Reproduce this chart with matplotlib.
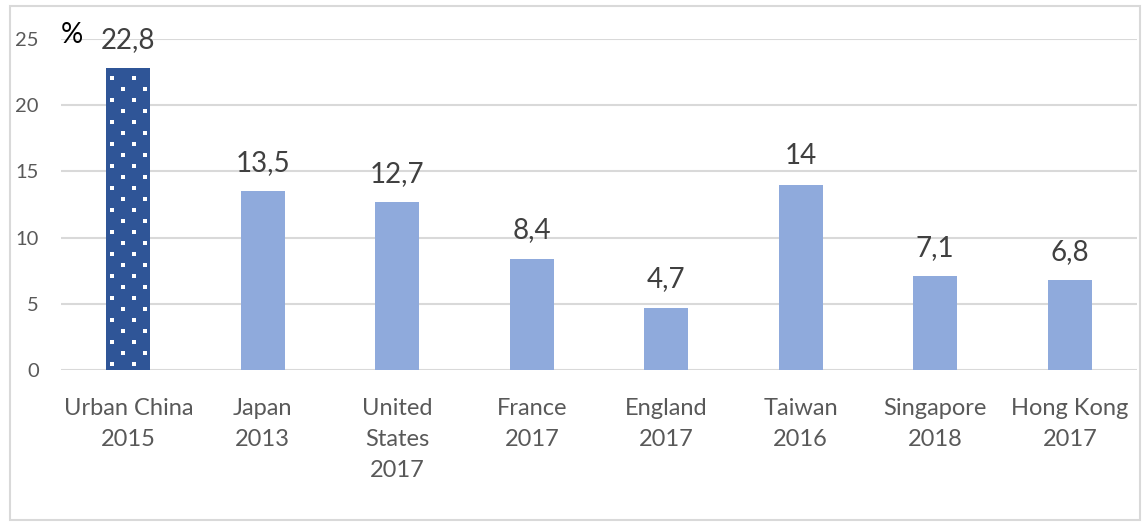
import matplotlib
matplotlib.use("Agg")
import matplotlib.pyplot as plt
from matplotlib.patches import Rectangle
import numpy as np

categories = ["Urban China\n2015", "Japan\n2013", "United\nStates\n2017", "France\n2017",
              "England\n2017", "Taiwan\n2016", "Singapore\n2018", "Hong Kong\n2017"]
values = [22.8, 13.5, 12.7, 8.4, 4.7, 14.0, 7.1, 6.8]
value_labels = ["22,8", "13,5", "12,7", "8,4", "4,7", "14", "7,1", "6,8"]
yticks = [0, 5, 10, 15, 20, 25]

plt.rcParams['font.family'] = ['Lato', 'DejaVu Sans']

W, H = 1144, 529
fig = plt.figure(figsize=(W / 100, H / 100), dpi=100)
fig.patch.set_facecolor('white')
fig.patches.append(Rectangle((10 / W, 1 - 520 / H), 1130 / W, 514 / H, transform=fig.transFigure,
                             fill=False, edgecolor='#D9D9D9', linewidth=1.5))

ax = fig.add_axes([61 / W, 1 - 370 / H, 1076 / W, 331 / H])
x = np.arange(len(categories))
bar_w = 0.325
colors = ['#2F5597'] + ['#8FAADC'] * (len(values) - 1)
bars = ax.bar(x, values, width=bar_w, color=colors, linewidth=0, zorder=3)

ax.set_xlim(-0.5, len(categories) - 0.5)
ax.set_ylim(0, 25)

# dotted pattern on the first bar (white dots in a staggered grid)
b = bars[0]
bx0, bw, bh = b.get_x(), b.get_width(), b.get_height()
step_y = 25 / 331 * 11  # ~11 px in data units
dx, dy = [], []
k = 0
yy = step_y * 0.55
while yy < bh:
    cols = [0.125, 0.625] if k % 2 == 0 else [0.375, 0.875]
    for c in cols:
        dx.append(bx0 + c * bw)
        dy.append(yy)
    yy += step_y
    k += 1
ax.scatter(dx, dy, s=5, marker='s', color='white', linewidths=0, zorder=4)

for xi, v, lab in zip(x, values, value_labels):
    ax.annotate(lab, (xi, v), xytext=(0, 11), textcoords='offset points',
                ha='center', va='bottom', fontsize=20, color='#404040')

ax.annotate('%', (0, 25), xycoords=('axes fraction', 'data'), xytext=(0, 3),
            textcoords='offset points', ha='left', va='center',
            fontsize=20, color='black', annotation_clip=False)

ax.set_yticks(yticks)
ax.set_xticks(x)
ax.set_xticklabels(categories, fontsize=17, color='#595959', linespacing=1.6)
ax.tick_params(axis='y', labelsize=14.5, labelcolor='#595959', length=0, pad=16)
ax.tick_params(axis='x', length=0, pad=20)
ax.grid(axis='y', color='#D9D9D9', linewidth=1.5, zorder=0)
for s in ax.spines.values():
    s.set_visible(False)

fig.savefig('out.png', dpi=100, facecolor='white')
